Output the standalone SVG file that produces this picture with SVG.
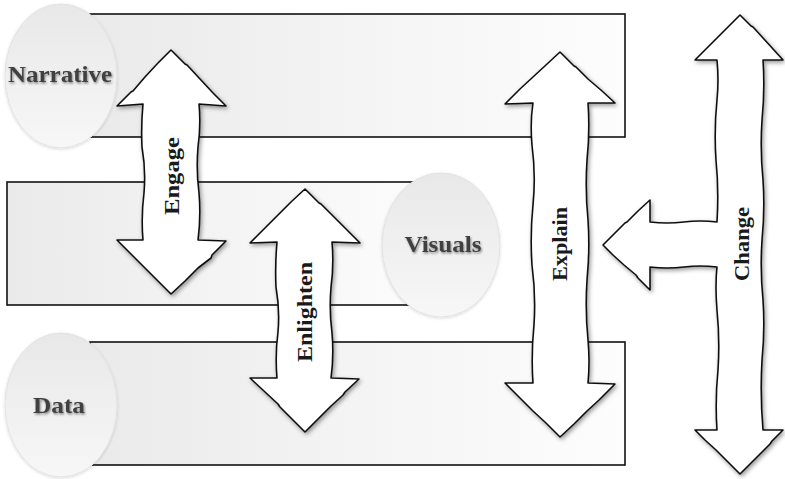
<svg xmlns="http://www.w3.org/2000/svg" width="785" height="479" viewBox="0 0 785 479">
<defs>
<linearGradient id="band" x1="0" y1="0" x2="1" y2="0">
<stop offset="0" stop-color="#eaeaea"/>
<stop offset="0.5" stop-color="#f4f4f4"/>
<stop offset="1" stop-color="#fdfdfd"/>
</linearGradient>
<linearGradient id="oval" x1="0" y1="0" x2="0" y2="1">
<stop offset="0" stop-color="#e8e8e8"/>
<stop offset="1" stop-color="#f7f7f7"/>
</linearGradient>
<filter id="sh" x="-20%" y="-10%" width="140%" height="120%">
<feDropShadow dx="1.5" dy="2" stdDeviation="2" flood-color="#000" flood-opacity="0.4"/>
</filter>
<filter id="osh" x="-20%" y="-20%" width="140%" height="140%">
<feDropShadow dx="0" dy="1" stdDeviation="1.5" flood-color="#000" flood-opacity="0.15"/>
</filter>
<filter id="tsh" x="-10%" y="-30%" width="120%" height="160%">
<feDropShadow dx="1" dy="1.5" stdDeviation="1" flood-color="#000" flood-opacity="0.45"/>
</filter>
</defs>
<style>
.band{fill:url(#band);stroke:#111;stroke-width:1.6}
.oval{fill:url(#oval);stroke:#e2e2e2;stroke-width:1;filter:url(#osh)}
.nl{font-family:"Liberation Serif",serif;font-weight:bold;font-size:24px;fill:#404040;text-anchor:middle;filter:url(#tsh)}
.arrow{fill:#fff;stroke:#111;stroke-width:1.6;stroke-linejoin:round;filter:url(#sh)}
.al{font-family:"Liberation Serif",serif;font-weight:bold;font-size:22px;fill:#1a1a1a;text-anchor:middle}
</style>

<g id="narrative">
<rect class="band" x="90" y="14" width="535" height="123"/>
<ellipse class="oval" cx="61" cy="76" rx="56" ry="72"/>
<text class="nl" x="60" y="82" textLength="104" lengthAdjust="spacingAndGlyphs">Narrative</text>
</g>

<g id="visuals">
<rect class="band" x="7" y="182" width="433" height="123"/>
<ellipse class="oval" cx="441" cy="245" rx="59" ry="72"/>
<text class="nl" x="443" y="252" textLength="77" lengthAdjust="spacingAndGlyphs">Visuals</text>
</g>

<g id="data">
<rect class="band" x="90" y="342" width="535" height="123"/>
<ellipse class="oval" cx="61" cy="405" rx="56" ry="72"/>
<text class="nl" x="59" y="413" textLength="52" lengthAdjust="spacingAndGlyphs">Data</text>
</g>

<g id="connectors">
<g id="engage">
<path class="arrow" d="M171,50 L185,64 L187,65 L200,79 L213,93 L226,106 L199,104 Q201,125 198,147 Q196,170 199,193 Q201,217 198,240 L226,241 L212,255 L211,258 L198,268 L185,281 L171,294 L157,280 L145,268 L143,266 L130,253 L117,240 L143,240 Q141,217 144,193 Q146,170 142,147 Q141,125 143,104 L117,106 L131,92 L133,91 L145,77 L158,63 Z"/>
<text class="al" transform="translate(179,176) rotate(-90)" textLength="78" lengthAdjust="spacingAndGlyphs">Engage</text>
</g>
<g id="enlighten">
<path class="arrow" d="M305,189 L319,203 L321,204 L333,216 L347,230 L360,243 L332,242 Q334,265 331,287 Q329,310 332,333 Q334,356 331,378 L359,379 L345,392 L343,395 L331,406 L318,419 L305,432 L292,419 L280,407 L278,404 L264,391 L250,378 L277,378 Q275,355 278,332 Q280,310 276,287 Q275,265 277,242 L250,243 L263,230 L265,228 L278,215 L291,202 Z"/>
<text class="al" transform="translate(312,312) rotate(-90)" textLength="100" lengthAdjust="spacingAndGlyphs">Enlighten</text>
</g>
<g id="explain">
<path class="arrow" d="M560,52 L574,66 L576,67 L588,79 L602,91 L615,103 L588,103 Q590,131 587,160 Q585,190 588,220 Q590,250 587,280 Q585,310 588,340 Q590,362 588,383 L615,384 L601,398 L599,400 L587,411 L574,424 L560,437 L546,423 L533,411 L531,409 L518,396 L505,383 L533,383 Q531,355 534,325 Q536,295 532,265 Q530,235 533,205 Q536,175 532,145 Q530,122 533,103 L505,104 L518,91 L520,89 L533,77 L546,65 Z"/>
<text class="al" transform="translate(567,244) rotate(-90)" textLength="74" lengthAdjust="spacingAndGlyphs">Explain</text>
</g>
<g id="change">
<path class="arrow" d="M740,15 L751,26 L753,27 L763,38 L773,49 L783,60 L763,60 Q765,90 762,120 Q760,150 763,180 Q765,210 762,240 Q760,270 763,300 Q765,330 762,360 Q760,395 763,430 L783,430 L772,441 L770,444 L760,454 L750,464 L740,474 L729,463 L718,452 L716,450 L705,440 L695,430 L717,430 Q715,400 718,370 Q720,340 717,310 Q715,285 717,267 Q700,265 684,267 Q667,269 650,267 L650,290 L638,278 L636,275 L624,265 L613,255 L603,245 L614,234 L625,223 L627,222 L638,211 L650,200 L650,222 Q667,224 684,222 Q700,220 717,222 Q719,190 716,160 Q714,130 717,100 Q719,80 717,60 L695,60 L705,50 L707,48 L717,38 L728,27 Z"/>
<text class="al" transform="translate(749,244) rotate(-90)" textLength="74" lengthAdjust="spacingAndGlyphs">Change</text>
</g>
</g>
</svg>
